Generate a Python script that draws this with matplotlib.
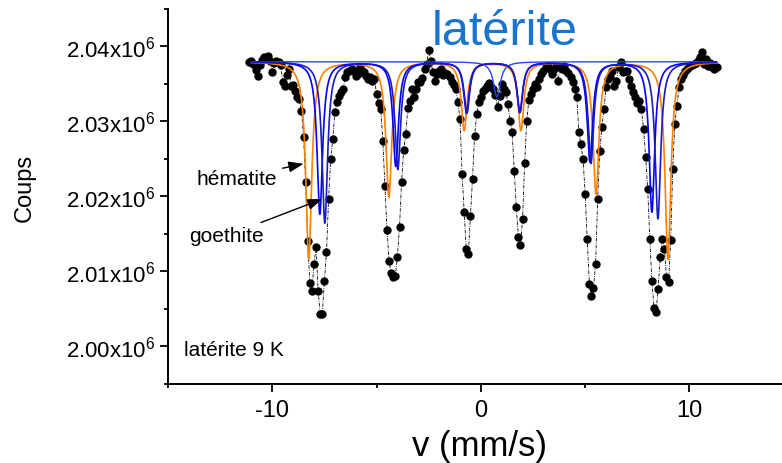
import numpy as np
import matplotlib
matplotlib.use('Agg')
import matplotlib.pyplot as plt
from matplotlib.ticker import MultipleLocator, FuncFormatter

plt.rcParams['font.family'] = ['Liberation Sans', 'DejaVu Sans']
plt.rcParams['mathtext.default'] = 'regular'
plt.rcParams['axes.unicode_minus'] = False

# measured spectrum: channels every 0.1 mm/s starting at -11.1 mm/s, counts in thousands
v_start = -11.1
v_step = 0.1
counts_k = [
    2037.9, 2038.0, 2037.6, 2036.8, 2036.0, 2037.5, 2038.1, 2038.5, 2038.3, 2038.7,
    2038.0, 2036.5, 2037.7, 2038.0, 2037.9, 2037.5, 2035.2, 2034.7, 2036.1, 2036.9,
    2034.7, 2034.8, 2034.0, 2033.2, 2032.9, 2031.3, 2027.9, 2021.9, 2014.0, 2008.4,
    2007.3, 2010.9, 2013.2, 2007.3, 2004.3, 2004.3, 2008.7, 2012.5, 2019.6, 2024.9,
    2027.6, 2031.2, 2032.5, 2033.3, 2033.9, 2034.3, 2035.9, 2036.5, 2036.7, 2036.9,
    2036.7, 2036.0, 2036.3, 2037.2, 2036.7, 2036.5, 2036.0, 2035.6, 2035.9, 2035.3,
    2035.6, 2033.6, 2032.4, 2031.6, 2027.3, 2021.3, 2015.5, 2011.3, 2009.7, 2009.2,
    2009.3, 2011.9, 2015.9, 2021.9, 2026.1, 2028.3, 2031.7, 2032.7, 2034.3, 2033.2,
    2034.3, 2035.2, 2035.2, 2035.7, 2036.9, 2037.6, 2039.5, 2038.0, 2036.5, 2035.3,
    2036.3, 2036.7, 2036.9, 2036.1, 2036.4, 2036.3, 2035.9, 2035.2, 2034.8, 2034.3,
    2032.5, 2030.3, 2022.9, 2017.9, 2012.9, 2012.3, 2017.3, 2022.3, 2028.0, 2030.9,
    2032.5, 2033.2, 2034.0, 2034.3, 2034.7, 2035.1, 2034.5, 2034.3, 2033.5, 2031.9,
    2033.3, 2034.9, 2034.3, 2033.9, 2032.3, 2030.0, 2028.5, 2023.3, 2018.5, 2014.5,
    2013.5, 2016.9, 2024.4, 2030.0, 2032.8, 2033.6, 2034.3, 2034.9, 2034.5, 2035.6,
    2036.3, 2036.7, 2037.2, 2037.3, 2036.9, 2036.3, 2036.9, 2037.2, 2035.3, 2037.2,
    2036.9, 2037.3, 2036.7, 2036.4, 2035.9, 2035.2, 2034.3, 2033.2, 2028.5, 2026.9,
    2024.9, 2020.3, 2014.3, 2008.3, 2006.7, 2007.7, 2010.9, 2019.6, 2026.0, 2029.2,
    2031.6, 2034.5, 2035.6, 2036.0, 2036.7, 2034.7, 2035.3, 2037.2, 2037.9, 2036.5,
    2036.7, 2036.7, 2035.6, 2034.7, 2033.9, 2033.2, 2032.4, 2032.7, 2031.6, 2028.9,
    2025.2, 2020.9, 2014.3, 2008.7, 2005.1, 2004.5, 2007.6, 2011.9, 2014.3, 2012.9,
    2009.2, 2008.5, 2014.1, 2023.6, 2029.6, 2032.0, 2034.5, 2035.6, 2036.1, 2036.7,
    2036.9, 2037.2, 2037.5, 2037.6, 2037.7, 2038.0, 2038.5, 2039.2, 2037.6, 2038.3,
    2037.3, 2037.7, 2037.2, 2036.9, 2037.2,
]

# fitted sub-spectra (line positions in mm/s, depths in thousands of counts)
baseline_k = 2037.9
hem_pos = [-8.25, -4.41, -0.80, 1.92, 5.52, 8.97]
hem_depth = [26.3, 18.0, 9.1, 9.1, 17.6, 26.3]
hem_hwhm = 0.17
goe1_pos = [-7.72, -4.08, -0.69, 1.87, 5.23, 8.20]
goe1_depth = [20.3, 13.9, 6.8, 6.7, 13.3, 20.0]
goe2_pos = [-7.48, -3.98, -0.67, 1.87, 5.28, 8.49]
goe2_depth = [21.5, 14.3, 6.8, 6.7, 13.5, 20.9]
goe_hwhm = 0.16
para_pos = [0.77]
para_depth = [4.7]
para_hwhm = 0.2

velocity = v_start + v_step * np.arange(len(counts_k))
counts = np.array(counts_k) * 1e3

vfit = np.linspace(-11.0, 11.3, 2000)


def sub_spectrum(pos, depth, hwhm):
    y = np.full_like(vfit, baseline_k)
    for p, d in zip(pos, depth):
        y -= d / (1 + ((vfit - p) / hwhm) ** 2)
    return y * 1e3


fig = plt.figure(figsize=(7.82, 4.64), dpi=100)
ax = fig.add_axes([0.2148, 0.1713, 0.8002, 0.8082])

ax.plot(velocity, counts, color='black', lw=0.6, ls=(0, (4, 1.5, 1, 1.5)),
        marker='o', ms=5, mfc='black', mec='black', zorder=2)

ax.plot(vfit, sub_spectrum(para_pos, para_depth, para_hwhm), color='#2244ff', lw=1.0, zorder=3)
ax.plot(vfit, sub_spectrum(hem_pos, hem_depth, hem_hwhm), color='#ff8000', lw=1.2, zorder=3)
ax.plot(vfit, sub_spectrum(goe1_pos, goe1_depth, goe_hwhm), color='#0000ff', lw=1.2, zorder=4)
ax.plot(vfit, sub_spectrum(goe2_pos, goe2_depth, goe_hwhm), color='#1a1ac0', lw=1.2, zorder=4)

ax.set_xlim(-15, 15)
ax.set_ylim(1.995e6, 2.045e6)
ax.xaxis.set_major_locator(MultipleLocator(10))
ax.xaxis.set_minor_locator(MultipleLocator(5))
ax.yaxis.set_major_locator(MultipleLocator(10000))
ax.yaxis.set_minor_locator(MultipleLocator(5000))
ax.yaxis.set_major_formatter(FuncFormatter(lambda v, pos: f'{v / 1e6:.2f}x10$^{{6}}$'))

for s in ['top', 'right']:
    ax.spines[s].set_visible(False)
for s in ['left', 'bottom']:
    ax.spines[s].set_linewidth(1.4)
ax.tick_params(which='major', direction='out', length=6, width=1.3)
ax.tick_params(which='minor', direction='out', length=3, width=1.3)
ax.tick_params(axis='y', pad=3, labelsize=16)
ax.tick_params(axis='x', pad=5, labelsize=17)

arrow = dict(arrowstyle='-|>,head_length=0.6,head_width=0.22', color='black', lw=1.0,
             shrinkB=0)
ax.annotate('hématite', xy=(-8.5, 2024.3e3), xytext=(-11.7, 2022.4e3),
            ha='center', va='center', fontsize=15, arrowprops=arrow, zorder=6)
ax.annotate('goethite', xy=(-7.6, 2019.6e3), xytext=(-12.2, 2014.7e3),
            ha='center', va='center', fontsize=15, arrowprops=arrow, zorder=6)
ax.text(-14.24, 1999.5e3, 'latérite 9 K', ha='left', va='center', fontsize=15)

fig.text(25 / 782, 1 - 188 / 464, 'Coups', rotation=90, ha='center', va='center', fontsize=17)
fig.text(480 / 782, 1 - 447 / 464, 'v (mm/s)', ha='center', va='center', fontsize=25)
fig.text(505 / 782, 1 - 45 / 464, 'latérite', ha='center', va='baseline', fontsize=35, color='#1874cd')

fig.savefig('out.png', dpi=100)
